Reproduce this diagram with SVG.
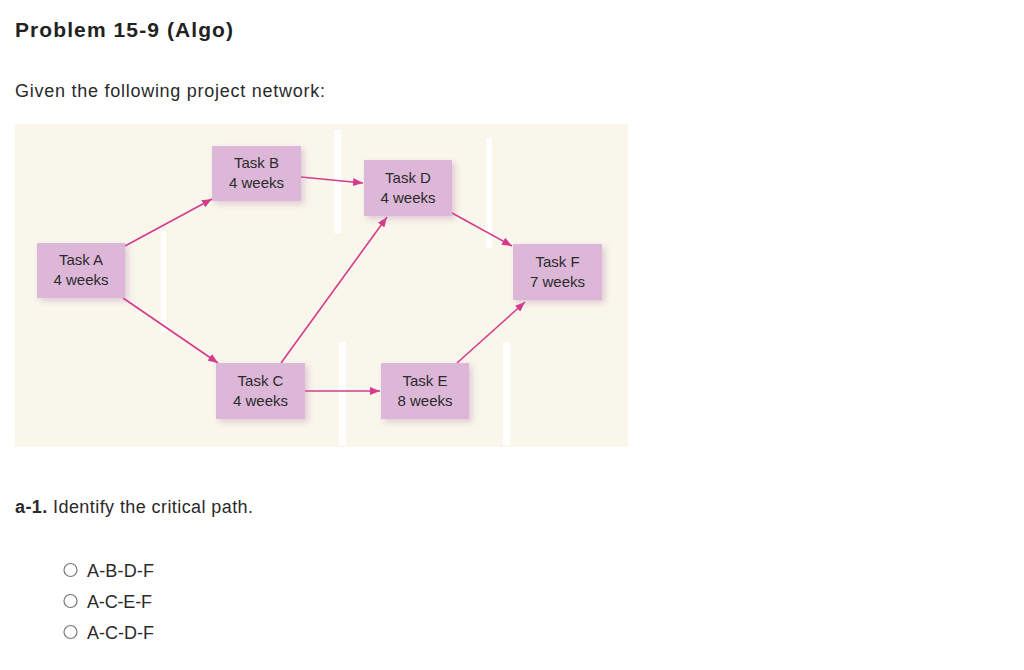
<svg xmlns="http://www.w3.org/2000/svg" width="1024" height="670" viewBox="0 0 1024 670">
<defs>
<style>
.h{font-family:"Liberation Sans",Arial,sans-serif;font-weight:bold;font-size:21px;fill:#222}
.t{font-family:"Liberation Sans",Arial,sans-serif;font-size:18px;fill:#2a2a2a}
.nt{font-family:"Liberation Sans",Arial,sans-serif;font-size:15px;fill:#2b2b2b;text-anchor:middle}
.box{fill:#dcb7d8}
.edge{stroke:#d63a8c;stroke-width:1.6;fill:none}
.bar{fill:#ffffff}
.rb{fill:#fff;stroke:#777;stroke-width:1.2}
</style>
<marker id="ah" viewBox="0 0 10 8" refX="10" refY="4" markerWidth="10" markerHeight="8" markerUnits="userSpaceOnUse" orient="auto">
<path d="M0,0 L10,4 L0,8 z" fill="#d63a8c"/>
</marker>
<filter id="sh" x="-20%" y="-20%" width="150%" height="150%">
<feGaussianBlur in="SourceAlpha" stdDeviation="3"/>
<feOffset dx="3" dy="3" result="b"/>
<feFlood flood-color="#b07aa8" flood-opacity="0.35"/>
<feComposite in2="b" operator="in" result="s"/>
<feMerge><feMergeNode in="s"/><feMergeNode in="SourceGraphic"/></feMerge>
</filter>
</defs>
<rect width="1024" height="670" fill="#ffffff"/>
<text class="h" x="15" y="37" textLength="218" lengthAdjust="spacing">Problem 15-9 (Algo)</text>
<text class="t" x="15" y="97" textLength="310" lengthAdjust="spacing">Given the following project network:</text>

<g id="panel">
<rect x="15" y="124" width="613" height="323" fill="#f9f6eb"/>
<rect class="bar" x="161" y="230" width="5" height="102"/>
<rect class="bar" x="334" y="130" width="7" height="103"/>
<rect class="bar" x="486" y="138" width="6" height="110"/>
<rect class="bar" x="339" y="342" width="7" height="103"/>
<rect class="bar" x="503" y="342" width="7" height="103"/>
</g>

<g id="connectors">
<line class="edge" x1="125" y1="246" x2="212" y2="199" marker-end="url(#ah)"/>
<line class="edge" x1="123" y1="298" x2="218" y2="363" marker-end="url(#ah)"/>
<line class="edge" x1="301" y1="177" x2="363" y2="183" marker-end="url(#ah)"/>
<line class="edge" x1="281" y1="363" x2="387" y2="217" marker-end="url(#ah)"/>
<line class="edge" x1="305" y1="391" x2="380" y2="391" marker-end="url(#ah)"/>
<line class="edge" x1="452" y1="213" x2="512" y2="246" marker-end="url(#ah)"/>
<line class="edge" x1="457" y1="363" x2="525" y2="302" marker-end="url(#ah)"/>
</g>

<g id="taskA">
<rect class="box" x="37" y="243" width="88" height="55" filter="url(#sh)"/>
<text class="nt" x="81" y="265">Task A</text>
<text class="nt" x="81" y="285">4 weeks</text>
</g>
<g id="taskB">
<rect class="box" x="212" y="146" width="89" height="55" filter="url(#sh)"/>
<text class="nt" x="256.5" y="168">Task B</text>
<text class="nt" x="256.5" y="188">4 weeks</text>
</g>
<g id="taskC">
<rect class="box" x="216" y="363" width="89" height="56" filter="url(#sh)"/>
<text class="nt" x="260.5" y="386">Task C</text>
<text class="nt" x="260.5" y="406">4 weeks</text>
</g>
<g id="taskD">
<rect class="box" x="364" y="160" width="88" height="56" filter="url(#sh)"/>
<text class="nt" x="408" y="183">Task D</text>
<text class="nt" x="408" y="203">4 weeks</text>
</g>
<g id="taskE">
<rect class="box" x="381" y="363" width="88" height="56" filter="url(#sh)"/>
<text class="nt" x="425" y="386">Task E</text>
<text class="nt" x="425" y="406">8 weeks</text>
</g>
<g id="taskF">
<rect class="box" x="513" y="244" width="89" height="56" filter="url(#sh)"/>
<text class="nt" x="557.5" y="267">Task F</text>
<text class="nt" x="557.5" y="287">7 weeks</text>
</g>

<text class="t" x="15" y="513" textLength="238" lengthAdjust="spacing"><tspan font-weight="bold">a-1.</tspan> Identify the critical path.</text>

<g id="options">
<circle class="rb" cx="70.5" cy="570" r="6.5"/>
<text class="t" x="87" y="577" textLength="67" lengthAdjust="spacing">A-B-D-F</text>
<circle class="rb" cx="70.5" cy="601" r="6.5"/>
<text class="t" x="87" y="608" textLength="65" lengthAdjust="spacing">A-C-E-F</text>
<circle class="rb" cx="70.5" cy="632" r="6.5"/>
<text class="t" x="87" y="639" textLength="67" lengthAdjust="spacing">A-C-D-F</text>
</g>
</svg>
